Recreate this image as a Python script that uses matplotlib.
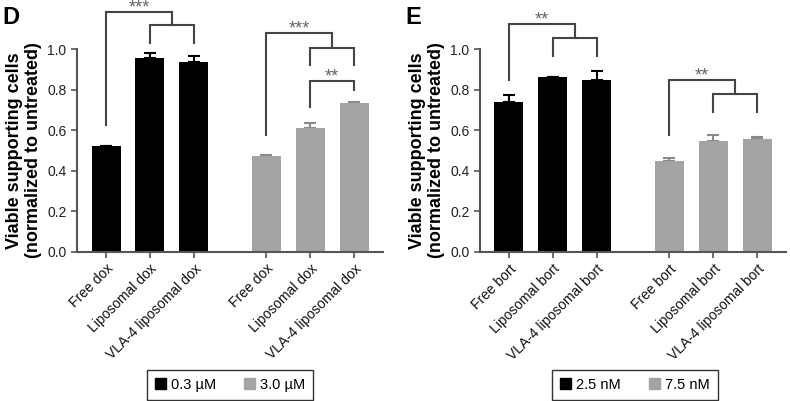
import matplotlib
matplotlib.use('Agg')
import matplotlib.pyplot as plt
from matplotlib.patches import Patch

plt.rcParams['font.family'] = ['Liberation Sans', 'DejaVu Sans']

# bar positions (two groups of three)
positions = [0, 1, 2, 3.65, 4.65, 5.65]

dox_labels = ['Free dox', 'Liposomal dox', 'VLA-4 liposomal dox']
dox_low = [0.52, 0.957, 0.937]
dox_low_err = [0.003, 0.023, 0.031]
dox_high = [0.475, 0.609, 0.736]
dox_high_err = [0.004, 0.028, 0.004]

bort_labels = ['Free bort', 'Liposomal bort', 'VLA-4 liposomal bort']
bort_low = [0.74, 0.861, 0.847]
bort_low_err = [0.033, 0.002, 0.046]
bort_high = [0.447, 0.545, 0.557]
bort_high_err = [0.016, 0.03, 0.008]

# brackets: (x left, x right, y left end, y top, y right end, stars)
dox_brackets = [
    (1, 2, 1.03, 1.118, 1.03, ''),
    (0, 1.5, 0.626, 1.184, 1.118, '***'),
    (4.65, 5.65, 0.92, 1.003, 0.92, ''),
    (3.65, 5.15, 0.576, 1.077, 1.003, '***'),
    (4.65, 5.65, 0.714, 0.842, 0.80, '**'),
]
bort_brackets = [
    (1, 2, 0.966, 1.053, 0.966, ''),
    (0, 1.5, 0.847, 1.123, 1.053, '**'),
    (4.65, 5.65, 0.691, 0.777, 0.691, ''),
    (3.65, 5.15, 0.576, 0.847, 0.777, '**'),
]

black = '#000000'
gray = '#a4a4a6'
axis_col = '#555555'

fig = plt.figure(figsize=(7.9, 4.01), dpi=100)


def draw_panel(ax, labels, low, low_err, high, high_err, brackets, leg_labels, letter, leg_x):
    vals = low + high
    errs = low_err + high_err
    cols = [black] * 3 + [gray] * 3
    ecols = [black] * 3 + ['#8a8a8c'] * 3
    ax.bar(positions, vals, width=0.66, color=cols, zorder=2)
    for x, v, e, c in zip(positions, vals, errs, ecols):
        ax.errorbar(x, v, yerr=[[0], [e]], fmt='none', ecolor=c,
                    elinewidth=1.5, capsize=4, capthick=1.5, zorder=1)

    ax.set_xlim(-0.66, 6.31)
    ax.set_ylim(0, 1.0)
    ax.set_yticks([0, 0.2, 0.4, 0.6, 0.8, 1.0])
    ax.set_yticklabels(['0.0', '0.2', '0.4', '0.6', '0.8', '1.0'])
    ax.set_xticks(positions)
    ax.set_xticklabels(labels * 2, rotation=45, ha='right',
                       rotation_mode='anchor', fontsize=10)
    ax.tick_params(axis='y', labelsize=10, color=axis_col, labelcolor='#222222',
                   length=4, width=1.2)
    ax.tick_params(axis='x', length=4, width=1.2, color=axis_col,
                   labelcolor='#111111', pad=3)
    for s in ['top', 'right']:
        ax.spines[s].set_visible(False)
    for s in ['left', 'bottom']:
        ax.spines[s].set_color(axis_col)
        ax.spines[s].set_linewidth(1.5)
    ax.set_ylabel('Viable supporting cells\n(normalized to untreated)',
                  fontsize=13, fontweight='bold', linespacing=1.1, labelpad=4)

    for x1, x2, y1, yt, y2, star in brackets:
        ax.plot([x1, x1, x2, x2], [y1, yt, yt, y2], color='#444444',
                lw=1.5, clip_on=False, solid_joinstyle='miter')
        if star:
            ax.text((x1 + x2) / 2, yt + 0.02, star, ha='center', va='center',
                    fontsize=13, color='#666666', clip_on=False)

    handles = [Patch(facecolor=black, edgecolor=black),
               Patch(facecolor=gray, edgecolor=gray)]
    leg = fig.legend(handles, leg_labels, ncol=2, loc='lower center',
                     bbox_to_anchor=(leg_x, 0.0), bbox_transform=fig.transFigure,
                     fontsize=10.5, frameon=True, fancybox=False,
                     handlelength=0.75, handleheight=0.75, handletextpad=0.35,
                     columnspacing=1.9, borderpad=0.55, borderaxespad=0.1)
    leg.get_frame().set_edgecolor('#000000')
    leg.get_frame().set_linewidth(1.0)

    ax.text(-0.245, 1.1, letter, transform=ax.transAxes, fontsize=17,
            fontweight='bold', ha='left', va='bottom')


ax1 = fig.add_axes([0.0975, 0.3716, 0.3875, 0.506])
draw_panel(ax1, dox_labels, dox_low, dox_low_err, dox_high, dox_high_err,
           dox_brackets, ['0.3 µM', '3.0 µM'], 'D', 230 / 790)

ax2 = fig.add_axes([0.6076, 0.3716, 0.3875, 0.506])
draw_panel(ax2, bort_labels, bort_low, bort_low_err, bort_high, bort_high_err,
           bort_brackets, ['2.5 nM', '7.5 nM'], 'E', 635 / 790)

fig.savefig('out.png', dpi=100)
